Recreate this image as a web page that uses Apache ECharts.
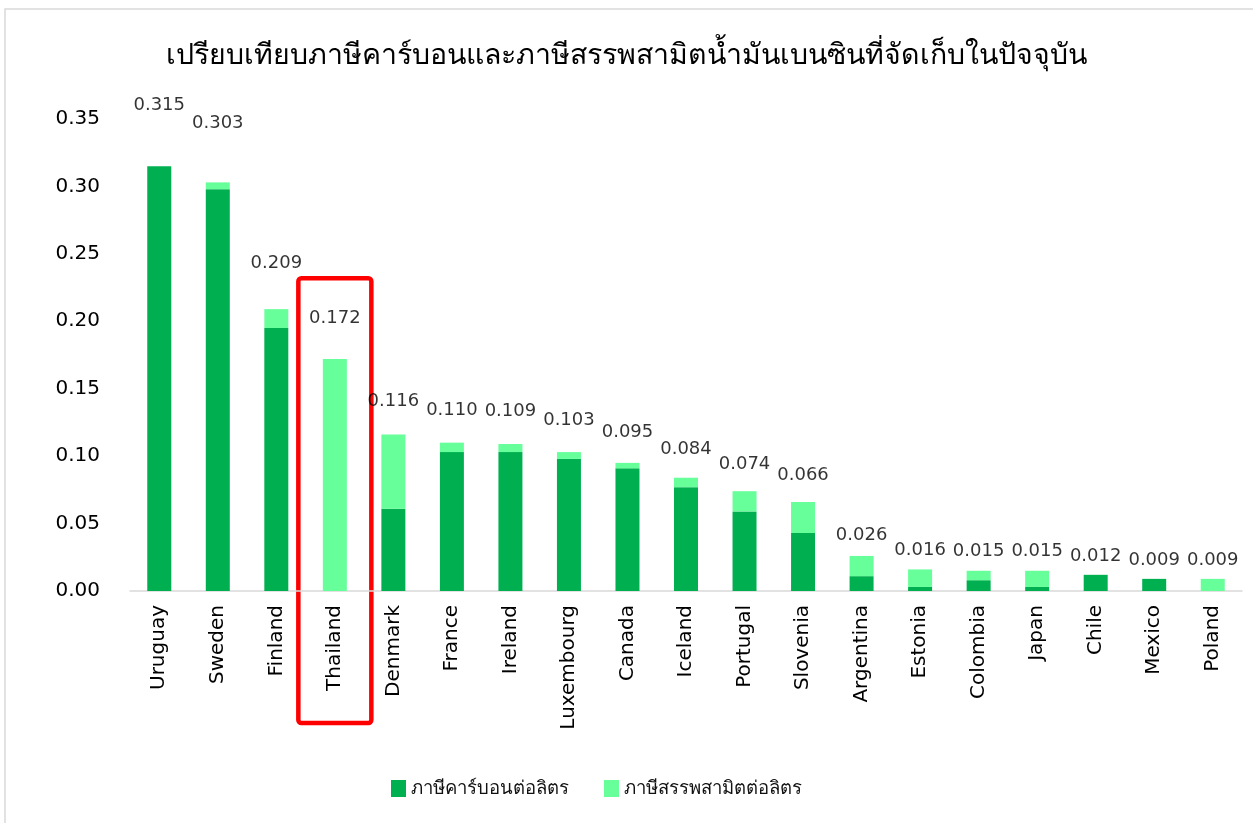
<!DOCTYPE html>
<html>
<head>
<meta charset="utf-8">
<script src="https://cdn.jsdelivr.net/npm/echarts@6/dist/echarts.min.js"></script>
<style>
  html, body { margin: 0; padding: 0; background: #fff; }
  #chart { width: 1253px; height: 823px; }
</style>
</head>
<body>
<div id="chart"></div>
<script>
const countries = ["Uruguay", "Sweden", "Finland", "Thailand", "Denmark", "France", "Ireland", "Luxembourg", "Canada", "Iceland", "Portugal", "Slovenia", "Argentina", "Estonia", "Colombia", "Japan", "Chile", "Mexico", "Poland"];
// ภาษีคาร์บอนต่อลิตร
const carbonTax = [0.315, 0.298, 0.195, 0, 0.061, 0.103, 0.103, 0.098, 0.091, 0.077, 0.059, 0.043, 0.011, 0.003, 0.008, 0.003, 0.012, 0.009, 0];
// ภาษีสรรพสามิตต่อลิตร
const exciseTax = [0, 0.005, 0.014, 0.172, 0.055, 0.007, 0.006, 0.005, 0.004, 0.007, 0.015, 0.023, 0.015, 0.013, 0.007, 0.012, 0, 0, 0.009];
// ตัวเลขรวมที่แสดงเหนือแท่ง
const totals = [0.315, 0.303, 0.209, 0.172, 0.116, 0.110, 0.109, 0.103, 0.095, 0.084, 0.074, 0.066, 0.026, 0.016, 0.015, 0.015, 0.012, 0.009, 0.009];
const yTicks = { min: 0, max: 0.35, interval: 0.05 };

const thaiFont = "'Noto Sans', 'DejaVu Sans', sans-serif";
const numFont = "'DejaVu Sans', sans-serif";

const chart = echarts.init(document.getElementById("chart"));

const option = {
  animation: false,
  title: {
    text: "เปรียบเทียบภาษีคาร์บอนและภาษีสรรพสามิตน้ำมันเบนซินที่จัดเก็บในปัจจุบัน",
    left: "center",
    top: 36,
    textStyle: { fontFamily: thaiFont, fontSize: 28.5, fontWeight: "normal", color: "#000" },
  },
  legend: {
    data: ["ภาษีคาร์บอนต่อลิตร", "ภาษีสรรพสามิตต่อลิตร"],
    top: 774,
    left: 386,
    icon: "rect",
    itemWidth: 15,
    itemHeight: 17,
    itemGap: 35,
    textStyle: { fontFamily: thaiFont, fontSize: 18.5, color: "#111" },
  },
  grid: { left: 130, right: 11, top: 119, bottom: 232 },
  xAxis: {
    type: "category",
    data: countries,
    axisLine: { lineStyle: { color: "#d9d9d9", width: 1.5 } },
    axisTick: { show: false },
    axisLabel: {
      rotate: 90,
      interval: 0,
      margin: 14,
      fontFamily: numFont,
      fontSize: 20,
      color: "#000",
    },
  },
  yAxis: {
    type: "value",
    min: yTicks.min,
    max: yTicks.max,
    interval: yTicks.interval,
    splitLine: { show: false },
    axisLine: { show: false },
    axisTick: { show: false },
    axisLabel: {
      margin: 30,
      fontFamily: numFont,
      fontSize: 20,
      color: "#000",
      formatter: (v) => v.toFixed(2),
    },
  },
  series: [
    {
      name: "ภาษีคาร์บอนต่อลิตร",
      type: "bar",
      stack: "tax",
      barWidth: 24,
      itemStyle: { color: "#00B050" },
      data: carbonTax,
    },
    {
      name: "ภาษีสรรพสามิตต่อลิตร",
      type: "bar",
      stack: "tax",
      barWidth: 24,
      itemStyle: { color: "#66FF99" },
      data: exciseTax,
    },
    {
      name: "รวม",
      type: "scatter",
      symbolSize: 0,
      silent: true,
      data: totals.map((v) => ({
        value: v,
        label: { distance: 8 + 140 * v },
      })),
      label: {
        show: true,
        position: "top",
        fontFamily: numFont,
        fontSize: 18,
        color: "#000",
        formatter: (p) => p.value.toFixed(3),
      },
    },
  ],
};

chart.setOption(option);

// กรอบสีแดงรอบ Thailand และกรอบนอกของภาพ
const cx = chart.convertToPixel({ xAxisIndex: 0 }, "Thailand");
const topY = chart.convertToPixel({ yAxisIndex: 0 }, 0.232);
chart.setOption({
  graphic: [
    {
      type: "rect",
      shape: { x: 5, y: 9, width: 1300, height: 900 },
      style: { fill: "none", stroke: "#d9d9d9", lineWidth: 1.5 },
      silent: true,
    },
    {
      type: "rect",
      shape: { x: cx - 36.5, y: topY, width: 73, height: 723 - topY, r: 3 },
      style: { fill: "none", stroke: "#FF0000", lineWidth: 4.5 },
      silent: true,
    },
  ],
});
</script>
</body>
</html>
